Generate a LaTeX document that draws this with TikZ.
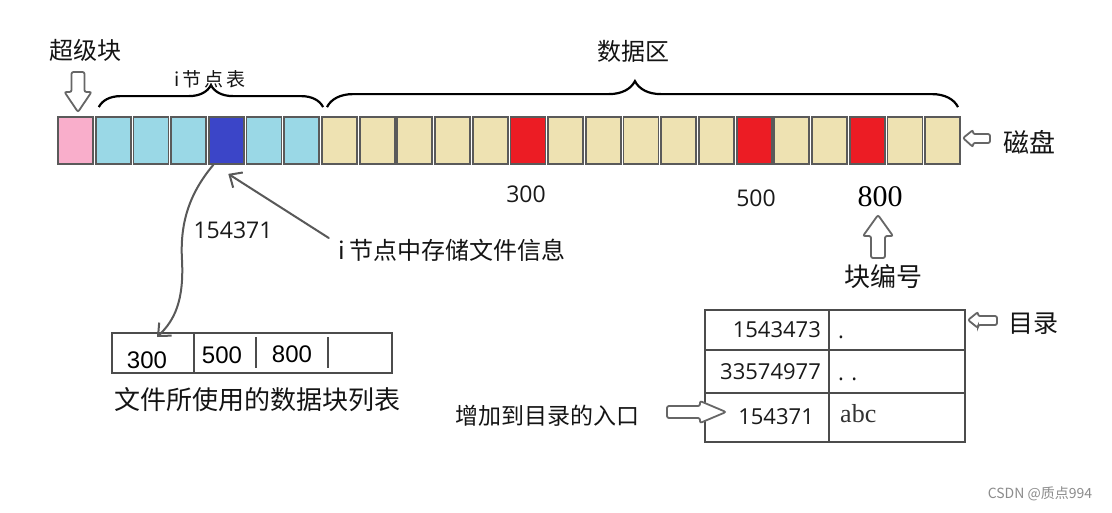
\documentclass[tikz,border=0pt]{standalone}
\usepackage{fontspec}
\setmainfont{Noto Sans CJK SC}
\newfontfamily\numfont{Open Sans}
\newfontfamily\sernum{Liberation Serif}
\newfontfamily\arialf{Liberation Sans}
\usetikzlibrary{decorations.pathreplacing,arrows.meta}
\definecolor{pinkb}{HTML}{F9AECB}
\definecolor{blueb}{HTML}{9AD8E6}
\definecolor{dblue}{HTML}{3B45C8}
\definecolor{tanb}{HTML}{EEE2B2}
\definecolor{redb}{HTML}{EC1C24}
\definecolor{edge}{HTML}{5A5A5A}
\begin{document}
\begin{tikzpicture}[x=1pt,y=-1pt,
  blk/.style={draw=edge,line width=1.8pt,minimum width=35pt,minimum height=47pt,inner sep=0},
  brc/.style={decorate,decoration={brace,amplitude=#1},line width=2.2pt,black},
  cjk/.style={font=\fontsize{#1}{#1}\selectfont,inner sep=0,text=black!92},
  num/.style={font=\fontsize{#1}{#1}\numfont,inner sep=0,text=black!90},
  hollow/.style={draw=black!60,line width=1.8pt,fill=white,rounded corners=2pt},
  hand/.style={draw=black!65,line width=2pt,line cap=round,-{Straight Barb[length=10pt,width=18pt,line width=2pt]}},
  tbl/.style={draw=black!70,line width=1.6pt}]
\useasboundingbox[fill=white] (0,0) rectangle (1112,512);

% disk blocks
\foreach \i/\c in {0/pinkb,1/blueb,2/blueb,3/blueb,4/dblue,5/blueb,6/blueb,
  7/tanb,8/tanb,9/tanb,10/tanb,11/tanb,12/redb,13/tanb,14/tanb,15/tanb,16/tanb,17/tanb,
  18/redb,19/tanb,20/tanb,21/redb,22/tanb,23/tanb}
  \node[blk,fill=\c] (b\i) at ({75.5+37.7*\i},140.5) {};

% braces
\draw[brc=22pt] ([xshift=4pt,yshift=9pt]b1.north west) -- ([xshift=3pt,yshift=9pt]b6.north east);
\draw[brc=26pt,decoration={aspect=0.488}] ([xshift=6pt,yshift=9pt]b7.north west) -- ([xshift=-3pt,yshift=9pt]b23.north east);

% labels top
\node[cjk=24] (sb) at (85,50) {超级块};
\node[cjk=19] (it) at (210,79) {i\,节\,点\,表};
\node[cjk=24] (dz) at (633,51) {数据区};
\node[cjk=26] (disk) at (1029,142) {磁盘};

% hollow arrows
\path[hollow] (71.5,72) -- (84.5,72) -- (84.5,92) -- (91.5,92) -- (78,112) -- (64.5,92) -- (71.5,92) -- cycle;
\path[hollow] (963,138) -- (973,130) -- (973,134) -- (990,134) -- (990,143) -- (973,143) -- (973,147) -- cycle;

% block numbers
\node[num=23] (n300) at (526,194) {300};
\node[num=23] (n500) at (756,198) {500};
\node[font=\fontsize{30}{30}\sernum,inner sep=0] (n800) at (880,197) {800};
\path[hollow] (871,258) -- (885,258) -- (885,236) -- (893,236) -- (878,215) -- (863,236) -- (871,236) -- cycle;
\node[cjk=26] (bn) at (883,277) {块编号};

% inode info
\node[num=23] (ino) at (233,230) {154371};
\node[cjk=24] (info) at (452,250) {i 节点中存储文件信息};

% list of data blocks
\draw[tbl] (112,333) rectangle (392,373);
\draw[tbl] (194,333) -- (194,373);
\draw[tbl] (256,337) -- (256,368);
\draw[tbl] (328,337) -- (328,368);
\node[font=\fontsize{24}{24}\arialf,inner sep=0] (l1) at (147,360) {300};
\node[font=\fontsize{24}{24}\arialf,inner sep=0] (l2) at (222,355) {500};
\node[font=\fontsize{24}{24}\arialf,inner sep=0] (l3) at (292,354) {800};
\node[cjk=26] (lcap) at (257,400) {文件所使用的数据块列表};
\coordinate (ltip) at (157,337);

% connectors
\draw[hand] ([xshift=-13pt]b4.south) .. controls (188,195) and (180,225) .. (182,260)
  .. controls (184,300) and (175,320) .. (ltip);
\draw[hand] ([xshift=-9pt,yshift=12pt]info.west) -- ([xshift=2pt,yshift=-9pt]b4.south);

% directory table
\draw[tbl] (705,310) rectangle (965,442);
\draw[tbl] (705,350) -- (965,350);
\draw[tbl] (705,393) -- (965,393);
\draw[tbl] (829,310) -- (829,442);
\node[num=22,anchor=east] (d1) at (821,330) {1543473};
\node[num=22,anchor=east] (d2) at (821,372) {33574977};
\node[num=22,anchor=east] (d3) at (814,417) {154371};
\node[num=22,anchor=base west] (e1) at (838,338) {.};
\node[num=22,anchor=base west] (e2) at (838,380) {.\,\,.};
\node[font=\fontsize{26}{26}\sernum,inner sep=0,anchor=west,text=black!80] (e3) at (840,414) {abc};
\path[hollow] (968,320) -- (978,312) -- (978,316) -- (997,316) -- (997,325) -- (978,325) -- (978,328) -- cycle;
\node[cjk=25] (dir) at (1033,324) {目录};
\node[cjk=23] (entry) at (547,416) {增加到目录的入口};
\path[hollow] (667,406) -- (700,406) -- (700,401) -- (726,412) -- (700,423) -- (700,418) -- (667,418) -- cycle;

% watermark
\node[font=\fontsize{14}{14}\selectfont,text=black!45,inner sep=0] (wm) at (1040,494) {CSDN @质点994};
\end{tikzpicture}
\end{document}
